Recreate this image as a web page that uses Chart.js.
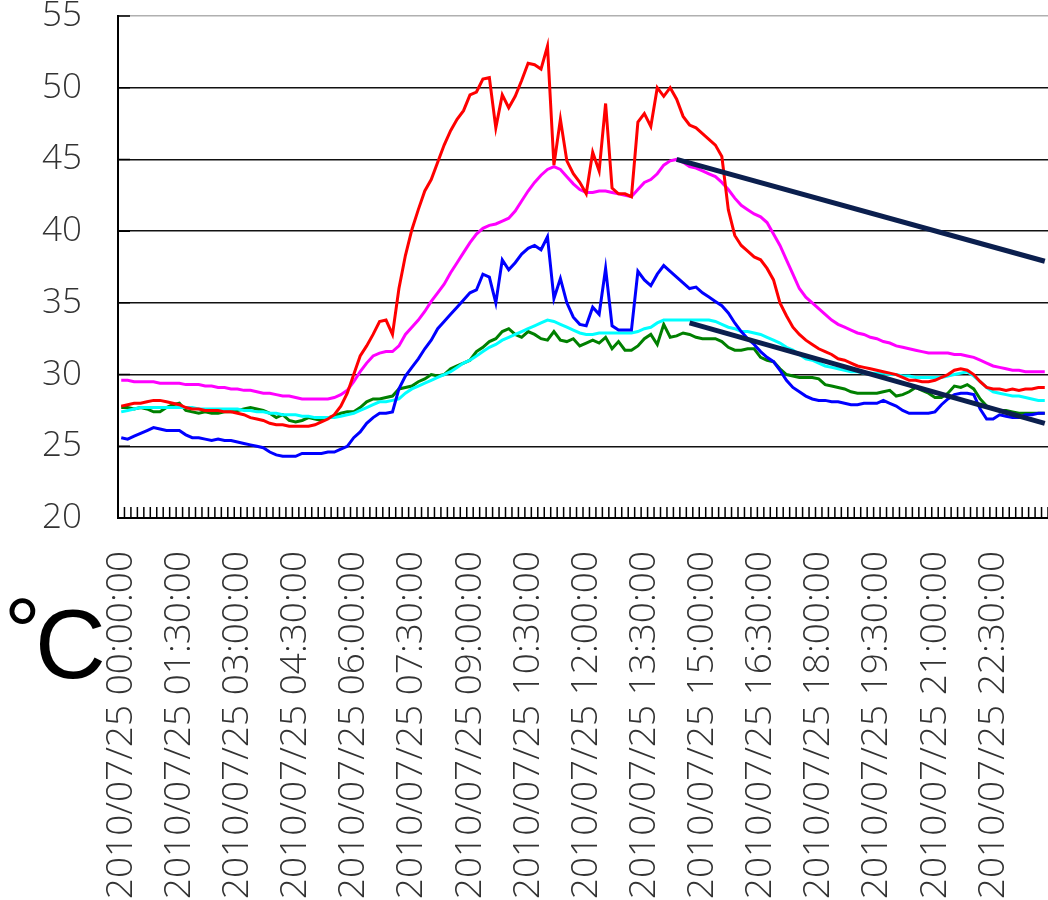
<!DOCTYPE html>
<html>
<head>
<meta charset="utf-8">
<script src="https://cdn.jsdelivr.net/npm/chart.js@4.4.1/dist/chart.umd.min.js"></script>
<style>
  html, body { margin: 0; padding: 0; background: #fff; }
  #wrap { position: relative; width: 1048px; height: 900px; }
</style>
</head>
<body>
<div id="wrap"><canvas id="c" width="1048" height="900"></canvas></div>
<script>
// ---- categories: 10-minute steps over 2010/07/25 ----
const categories = [];
for (let i = 0; i < 144; i++) {
  const h = String(Math.floor(i / 6)).padStart(2, '0');
  const m = String((i % 6) * 10).padStart(2, '0');
  categories.push('2010/07/25 ' + h + ':' + m + ':00');
}
const labelEvery = 9; // a label every 1:30

// ---- series values (°C) ----
const redSeries = [
  27.8, 27.9, 28.0, 28.0, 28.1, 28.2, 28.2, 28.1, 28.0, 27.9,
  27.7, 27.6, 27.6, 27.5, 27.5, 27.5, 27.4, 27.4, 27.3, 27.2,
  27.0, 26.9, 26.8, 26.6, 26.5, 26.5, 26.4, 26.4, 26.4, 26.4,
  26.5, 26.7, 26.9, 27.2, 27.8, 28.7, 30.0, 31.3, 32.0, 32.8,
  33.7, 33.8, 32.8, 36.0, 38.3, 40.1, 41.5, 42.8, 43.6, 44.8,
  46.0, 47.0, 47.8, 48.4, 49.5, 49.7, 50.6, 50.7, 47.2, 49.5,
  48.6, 49.4, 50.5, 51.7, 51.6, 51.3, 52.9, 44.6, 47.8, 44.9,
  44.0, 43.4, 42.6, 45.5, 44.2, 48.9, 43.0, 42.6, 42.6, 42.4,
  47.6, 48.2, 47.3, 50.0, 49.4, 50.0, 49.2, 48.0, 47.4, 47.2,
  46.8, 46.4, 46.0, 45.2, 41.5, 39.7, 39.0, 38.6, 38.2, 38.0,
  37.4, 36.6, 35.0, 34.1, 33.3, 32.8, 32.4, 32.1, 31.8, 31.6,
  31.4, 31.1, 31.0, 30.8, 30.6, 30.5, 30.4, 30.3, 30.2, 30.1,
  30.0, 29.8, 29.6, 29.6, 29.5, 29.5, 29.6, 29.8, 30.0, 30.3,
  30.4, 30.3, 30.0, 29.5, 29.1, 29.0, 29.0, 28.9, 29.0, 28.9,
  29.0, 29.0, 29.1, 29.1
];
const magentaSeries = [
  29.6, 29.6, 29.5, 29.5, 29.5, 29.5, 29.4, 29.4, 29.4, 29.4,
  29.3, 29.3, 29.3, 29.2, 29.2, 29.1, 29.1, 29.0, 29.0, 28.9,
  28.9, 28.8, 28.7, 28.7, 28.6, 28.5, 28.5, 28.4, 28.3, 28.3,
  28.3, 28.3, 28.3, 28.4, 28.6, 28.9, 29.5, 30.2, 30.8, 31.3,
  31.5, 31.6, 31.6, 32.0, 32.8, 33.3, 33.8, 34.4, 35.1, 35.7,
  36.3, 37.1, 37.8, 38.5, 39.2, 39.8, 40.2, 40.4, 40.5, 40.7,
  40.9, 41.4, 42.1, 42.8, 43.4, 43.9, 44.3, 44.5, 44.3, 43.8,
  43.3, 42.9, 42.7, 42.7, 42.8, 42.8, 42.7, 42.6, 42.5, 42.4,
  42.9, 43.4, 43.6, 44.0, 44.6, 44.9, 45.0, 44.8, 44.5, 44.4,
  44.2, 44.0, 43.8, 43.4, 42.9, 42.3, 41.8, 41.5, 41.2, 41.0,
  40.6, 39.8, 39.0, 38.0, 37.0, 36.0, 35.4, 35.0, 34.6, 34.2,
  33.8, 33.5, 33.3, 33.1, 32.9, 32.8, 32.6, 32.5, 32.3, 32.2,
  32.0, 31.9, 31.8, 31.7, 31.6, 31.5, 31.5, 31.5, 31.5, 31.4,
  31.4, 31.3, 31.2, 31.0, 30.8, 30.6, 30.5, 30.4, 30.3, 30.3,
  30.2, 30.2, 30.2, 30.2
];
const blueSeries = [
  25.6, 25.5, 25.7, 25.9, 26.1, 26.3, 26.2, 26.1, 26.1, 26.1,
  25.8, 25.6, 25.6, 25.5, 25.4, 25.5, 25.4, 25.4, 25.3, 25.2,
  25.1, 25.0, 24.9, 24.6, 24.4, 24.3, 24.3, 24.3, 24.5, 24.5,
  24.5, 24.5, 24.6, 24.6, 24.8, 25.0, 25.6, 26.0, 26.6, 27.0,
  27.3, 27.3, 27.4, 29.0, 29.9, 30.5, 31.1, 31.8, 32.4, 33.2,
  33.7, 34.2, 34.7, 35.2, 35.7, 35.9, 37.0, 36.8, 35.0, 38.0,
  37.3, 37.8, 38.4, 38.8, 39.0, 38.7, 39.6, 35.3, 36.7, 35.0,
  34.0, 33.5, 33.4, 34.7, 34.2, 37.4, 33.4, 33.1, 33.1, 33.1,
  37.2, 36.6, 36.2, 37.0, 37.6, 37.2, 36.8, 36.4, 36.0, 36.1,
  35.7, 35.4, 35.1, 34.8, 34.3, 33.6, 33.0, 32.5, 32.1, 31.6,
  31.2, 30.9, 30.3, 29.6, 29.1, 28.8, 28.5, 28.3, 28.2, 28.2,
  28.1, 28.1, 28.0, 27.9, 27.9, 28.0, 28.0, 28.0, 28.2, 28.0,
  27.8, 27.5, 27.3, 27.3, 27.3, 27.3, 27.4, 27.9, 28.3, 28.6,
  28.7, 28.7, 28.6, 27.6, 26.9, 26.9, 27.2, 27.1, 27.0, 27.0,
  27.2, 27.2, 27.3, 27.3
];
const greenSeries = [
  27.7, 27.7, 27.6, 27.7, 27.6, 27.4, 27.4, 27.7, 27.9, 28.0,
  27.5, 27.4, 27.3, 27.4, 27.3, 27.3, 27.4, 27.4, 27.5, 27.6,
  27.7, 27.6, 27.5, 27.3, 27.0, 27.2, 26.8, 26.7, 26.8, 27.0,
  26.9, 26.8, 27.0, 27.1, 27.3, 27.4, 27.4, 27.7, 28.1, 28.3,
  28.3, 28.4, 28.5, 29.0, 29.1, 29.2, 29.5, 29.7, 30.0, 29.9,
  30.0, 30.4, 30.6, 30.8, 31.0, 31.6, 31.9, 32.3, 32.5, 33.0,
  33.2, 32.8, 32.6, 33.0, 32.8, 32.5, 32.4, 33.0, 32.4, 32.3,
  32.5, 32.0, 32.2, 32.4, 32.2, 32.6, 31.8, 32.3, 31.7, 31.7,
  32.0, 32.5, 32.8, 32.1, 33.5, 32.6, 32.7, 32.9, 32.8, 32.6,
  32.5, 32.5, 32.5, 32.3, 31.9, 31.7, 31.7, 31.8, 31.8, 31.2,
  31.0, 30.9, 30.4, 30.0, 29.9, 29.8, 29.8, 29.8, 29.7, 29.3,
  29.2, 29.1, 29.0, 28.8, 28.7, 28.7, 28.7, 28.7, 28.8, 28.9,
  28.5, 28.6, 28.8, 29.1, 28.9, 28.7, 28.4, 28.4, 28.7, 29.2,
  29.1, 29.3, 29.0, 28.3, 27.8, 27.6, 27.5, 27.5, 27.4, 27.3,
  27.3, 27.3, 27.3, 27.3
];
const cyanSeries = [
  27.4, 27.5, 27.6, 27.7, 27.7, 27.7, 27.7, 27.7, 27.7, 27.7,
  27.7, 27.7, 27.6, 27.6, 27.6, 27.6, 27.6, 27.6, 27.6, 27.5,
  27.5, 27.4, 27.4, 27.3, 27.3, 27.2, 27.2, 27.2, 27.1, 27.1,
  27.0, 27.0, 27.0, 27.0, 27.1, 27.2, 27.3, 27.5, 27.7, 27.9,
  28.1, 28.1, 28.2, 28.3, 28.7, 29.0, 29.2, 29.4, 29.6, 29.8,
  30.0, 30.2, 30.5, 30.8, 31.0, 31.3, 31.6, 31.9, 32.1, 32.4,
  32.6, 32.8, 33.0, 33.2, 33.4, 33.6, 33.8, 33.7, 33.5, 33.3,
  33.1, 32.9, 32.8, 32.8, 32.9, 32.9, 32.9, 32.9, 32.9, 32.9,
  33.0, 33.2, 33.3, 33.6, 33.8, 33.8, 33.8, 33.8, 33.8, 33.8,
  33.8, 33.8, 33.7, 33.5, 33.3, 33.2, 33.0, 33.0, 32.9, 32.8,
  32.6, 32.4, 32.2, 31.9, 31.7, 31.4, 31.1, 31.0, 30.8, 30.6,
  30.5, 30.4, 30.3, 30.2, 30.2, 30.1, 30.1, 30.1, 30.1, 30.0,
  30.0, 29.9, 29.9, 29.8, 29.8, 29.8, 29.8, 29.8, 29.9, 30.0,
  30.1, 30.2, 29.9, 29.5, 29.1, 28.8, 28.7, 28.6, 28.5, 28.5,
  28.4, 28.3, 28.2, 28.2
];
// hand-drawn trend lines: [category index, value]
const trendUpperStart = [86, 45.0];
const trendUpperEnd   = [143, 37.9];
const trendLowerStart = [88, 33.6];
const trendLowerEnd   = [143, 26.6];

// y axis
const yMin = 20, yMax = 55, yStep = 5;

function segment(a, b) {
  const arr = new Array(categories.length).fill(null);
  arr[a[0]] = a[1];
  arr[b[0]] = b[1];
  return arr;
}

const FONT = "'Open Sans', 'Liberation Sans', Arial, sans-serif";
const UNIT_FONT = "'Liberation Sans', Arial, sans-serif";

const innerTicks = {
  id: 'innerTicks',
  beforeDatasetsDraw(chart) {
    const ctx = chart.ctx;
    const xs = chart.scales.x, ys = chart.scales.y;
    const area = chart.chartArea;
    const half = (xs.getPixelForTick(1) - xs.getPixelForTick(0)) / 2;
    ctx.save();
    ctx.strokeStyle = '#000';
    ctx.lineWidth = 1.5;
    ctx.beginPath();
    for (let i = 0; i < categories.length; i++) {
      const x = xs.getPixelForTick(i) + half;
      ctx.moveTo(x, area.bottom);
      ctx.lineTo(x, area.bottom - 11);
    }
    ys.ticks.forEach((t, i) => {
      const y = ys.getPixelForTick(i);
      ctx.moveTo(area.left, y);
      ctx.lineTo(area.left + 12, y);
    });
    ctx.stroke();
    ctx.restore();
  }
};

const unitLabel = {
  id: 'unitLabel',
  afterDraw(chart) {
    const ctx = chart.ctx;
    ctx.save();
    ctx.fillStyle = '#000';
    ctx.textBaseline = 'alphabetic';
    ctx.textAlign = 'left';
    ctx.font = '92px ' + UNIT_FONT;
    ctx.fillText('°', 4, 663);
    ctx.font = '98px ' + UNIT_FONT;
    ctx.fillText('C', 35, 678);
    ctx.restore();
  }
};

const lineDs = (data, color, order) => ({
  data, borderColor: color, backgroundColor: color, borderWidth: 3,
  pointRadius: 0, tension: 0, fill: false, order
});

new Chart(document.getElementById('c'), {
  type: 'line',
  data: {
    labels: categories,
    datasets: [
      lineDs(greenSeries, '#008000', 6),
      lineDs(cyanSeries, '#00ffff', 5),
      lineDs(magentaSeries, '#ff00ff', 4),
      lineDs(blueSeries, '#0000ff', 3),
      lineDs(redSeries, '#ff0000', 2),
      Object.assign(lineDs(segment(trendUpperStart, trendUpperEnd), '#0b1f4e', 1), { borderWidth: 5, spanGaps: true, borderCapStyle: 'butt' }),
      Object.assign(lineDs(segment(trendLowerStart, trendLowerEnd), '#0b1f4e', 1), { borderWidth: 5, spanGaps: true, borderCapStyle: 'butt' })
    ]
  },
  options: {
    responsive: false,
    animation: false,
    devicePixelRatio: 1,
    layout: { padding: { top: 16, right: 0, left: 0, bottom: 0 } },
    plugins: { legend: { display: false }, tooltip: { enabled: false }, title: { display: false } },
    scales: {
      x: {
        type: 'category',
        offset: true,
        grid: { display: false, drawTicks: false },
        border: { display: true, color: '#000', width: 2 },
        ticks: {
          autoSkip: false, minRotation: 90, maxRotation: 90, padding: 33,
          color: '#333', font: { family: FONT, size: 37, weight: '300' },
          callback: (v, i) => (i % labelEvery === 0 ? categories[i] : '')
        },
        afterFit(s) { s.height = 382; s.paddingLeft = 0; s.paddingRight = 0; }
      },
      y: {
        min: yMin, max: yMax,
        grid: {
          drawTicks: false,
          color: (c) => (c.tick && c.tick.value === yMax ? '#b0b0b0' : '#111'),
          lineWidth: 1.5
        },
        border: { display: true, color: '#000', width: 2 },
        ticks: { stepSize: yStep, padding: 36, color: '#333', font: { family: FONT, size: 35, weight: '300' } },
        afterFit(s) { s.width = 118; s.paddingTop = 0; s.paddingBottom = 0; }
      }
    }
  },
  plugins: [innerTicks, unitLabel]
});
</script>
</body>
</html>
